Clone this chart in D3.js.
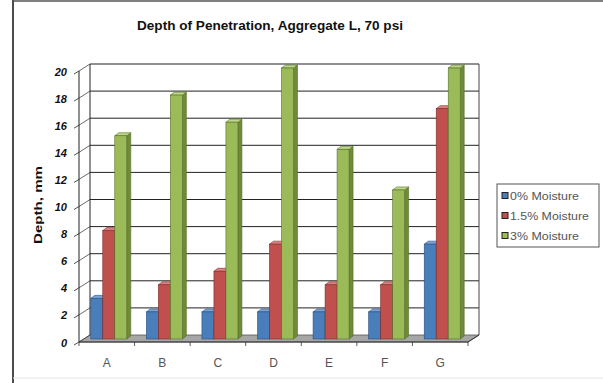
<!DOCTYPE html>
<html>
<head>
<meta charset="utf-8">
<script src="https://cdn.jsdelivr.net/npm/d3@7"></script>
<style>
  html, body { margin: 0; padding: 0; background: #fff; }
  svg { display: block; font-family: "Liberation Sans", Arial, sans-serif; }
</style>
</head>
<body>
<svg id="chart" width="603" height="383"></svg>
<script>
// Penetration depth (mm) per aggregate sample, at three moisture levels
const categories = ["A", "B", "C", "D", "E", "F", "G"];
const seriesNames = ["0% Moisture", "1.5% Moisture", "3% Moisture"];
const moisture0 = [3, 2, 2, 2, 2, 2, 7];
const moisture15 = [8, 4, 5, 7, 4, 4, 17];
const moisture3 = [15, 18, 16, 20, 14, 11, 20];
const yTicks = [0, 2, 4, 6, 8, 10, 12, 14, 16, 18, 20];

const seriesValues = [moisture0, moisture15, moisture3];
const fills = [
  { front: "#4a7ebb", side: "#335d92", top: "#7aa3d6", stroke: "#2b4f7c" },
  { front: "#c0504d", side: "#8e3432", top: "#dc827f", stroke: "#7a2c2a" },
  { front: "#9bbb59", side: "#6f8a38", top: "#bdd88a", stroke: "#56702a" }
];

const svg = d3.select("#chart");

// Frame around the chart area
svg.append("line").attr("x1", 13).attr("x2", 13).attr("y1", 0).attr("y2", 383)
  .attr("stroke", "#111").attr("stroke-width", 1.5);
svg.append("line").attr("x1", 13).attr("x2", 603).attr("y1", 1).attr("y2", 1)
  .attr("stroke", "#555").attr("stroke-width", 1.5);
svg.append("line").attr("x1", 13).attr("x2", 603).attr("y1", 378).attr("y2", 378)
  .attr("stroke", "#e4e4e4").attr("stroke-width", 1);

// Title
svg.append("text").attr("x", 270).attr("y", 30).attr("text-anchor", "middle")
  .attr("font-size", 13).attr("font-weight", "bold").attr("fill", "#111")
  .attr("textLength", 266).attr("lengthAdjust", "spacingAndGlyphs")
  .text("Depth of Penetration, Aggregate L, 70 psi");

// 3D geometry: front plane, back wall offset, bar plane offset
const depthX = 11, depthY = -7;
const barDX = 5, barDY = -3;
const sideX = 4, sideY = -3;

const x = d3.scaleBand().domain(categories).range([79, 468]).paddingInner(0);
const y = d3.scaleLinear().domain([0, 20]).range([342, 71]);
const groupW = 36;
const xs = d3.scaleBand().domain(d3.range(seriesNames.length)).range([0, groupW]).padding(0);

const plot = svg.append("g");

// Floor
const fx0 = x.range()[0], fx1 = x.range()[1], fy = y(0);
plot.append("polygon")
  .attr("points", [[fx0, fy], [fx1, fy], [fx1 + depthX, fy + depthY], [fx0 + depthX, fy + depthY]].map(p => p.join(",")).join(" "))
  .attr("fill", "#a6a6a6").attr("stroke", "#555").attr("stroke-width", 0.8);

// Back wall gridlines and left wall slants
yTicks.forEach(t => {
  const yy = y(t);
  if (t > 0) {
    plot.append("line").attr("x1", fx0 + depthX).attr("x2", fx1 + depthX)
      .attr("y1", yy + depthY).attr("y2", yy + depthY)
      .attr("stroke", "#222").attr("stroke-width", 1);
  }
  plot.append("line").attr("x1", fx0).attr("x2", fx0 + depthX)
    .attr("y1", yy).attr("y2", yy + depthY)
    .attr("stroke", "#444").attr("stroke-width", 0.8);
});
// Back wall verticals
plot.append("line").attr("x1", fx0 + depthX).attr("x2", fx0 + depthX)
  .attr("y1", y(20) + depthY).attr("y2", y(0) + depthY).attr("stroke", "#222");
plot.append("line").attr("x1", fx1 + depthX).attr("x2", fx1 + depthX)
  .attr("y1", y(20) + depthY).attr("y2", y(0) + depthY).attr("stroke", "#444");

// Bars
categories.forEach((c, ci) => {
  const gx = x(c) + (x.bandwidth() - groupW - sideX) / 2 + barDX - 1;
  seriesValues.forEach((vals, si) => {
    const v = vals[ci];
    const x0 = gx + xs(si), w = xs.bandwidth();
    const top = y(v) + barDY, bot = y(0) + barDY;
    const col = fills[si];
    const g = plot.append("g");
    g.append("polygon")
      .attr("points", [[x0 + w, top], [x0 + w + sideX, top + sideY], [x0 + w + sideX, bot + sideY], [x0 + w, bot]].map(p => p.join(",")).join(" "))
      .attr("fill", col.side).attr("stroke", col.stroke).attr("stroke-width", 0.6);
    g.append("polygon")
      .attr("points", [[x0, top], [x0 + sideX, top + sideY], [x0 + w + sideX, top + sideY], [x0 + w, top]].map(p => p.join(",")).join(" "))
      .attr("fill", col.top).attr("stroke", col.stroke).attr("stroke-width", 0.6);
    g.append("rect").attr("x", x0).attr("y", top).attr("width", w).attr("height", bot - top)
      .attr("fill", col.front).attr("stroke", col.stroke).attr("stroke-width", 0.6);
  });
});

// Front value axis
plot.append("line").attr("x1", fx0).attr("x2", fx0).attr("y1", y(0)).attr("y2", y(20))
  .attr("stroke", "#222").attr("stroke-width", 1);
yTicks.forEach(t => {
  const yy = y(t);
  plot.append("line").attr("x1", fx0 - 5).attr("y1", yy + 3).attr("x2", fx0).attr("y2", yy)
    .attr("stroke", "#222").attr("stroke-width", 0.8);
  plot.append("text").attr("x", 67).attr("y", yy + 4.5).attr("text-anchor", "end")
    .attr("font-size", 11).attr("font-weight", "bold").attr("font-style", "italic")
    .attr("fill", "#111").text(t);
});

// Category axis: front floor edge, ticks and labels
plot.append("line").attr("x1", fx0).attr("x2", fx1).attr("y1", fy).attr("y2", fy)
  .attr("stroke", "#333").attr("stroke-width", 1);
plot.append("line").attr("x1", fx1).attr("x2", fx1 + depthX).attr("y1", fy).attr("y2", fy + depthY)
  .attr("stroke", "#333").attr("stroke-width", 1);
categories.concat([null]).forEach((c, i) => {
  const tx = fx0 + i * x.bandwidth();
  plot.append("line").attr("x1", tx).attr("x2", tx).attr("y1", fy).attr("y2", fy + 4)
    .attr("stroke", "#333").attr("stroke-width", 0.8);
});
categories.forEach(c => {
  plot.append("text").attr("x", x(c) + x.bandwidth() / 2).attr("y", 367)
    .attr("text-anchor", "middle").attr("font-size", 12).attr("fill", "#555").text(c);
});

// Axis title
svg.append("text").attr("transform", "translate(42,205) rotate(-90)")
  .attr("text-anchor", "middle").attr("font-size", 11.5).attr("font-weight", "bold")
  .attr("textLength", 78).attr("lengthAdjust", "spacingAndGlyphs")
  .attr("fill", "#111").text("Depth, mm");

// Legend
const legendLengths = [69, 79, 69];
const lg = svg.append("g").attr("transform", "translate(497,184)");
lg.append("rect").attr("width", 102).attr("height", 63).attr("fill", "#fff")
  .attr("stroke", "#555").attr("stroke-width", 1);
seriesNames.forEach((name, i) => {
  const ly = 12 + i * 20;
  lg.append("rect").attr("x", 5).attr("y", ly - 3.5).attr("width", 6).attr("height", 6)
    .attr("fill", fills[i].front).attr("stroke", "#222").attr("stroke-width", 1);
  lg.append("text").attr("x", 13).attr("y", ly + 3.5).attr("font-size", 10.5)
    .attr("textLength", legendLengths[i]).attr("lengthAdjust", "spacingAndGlyphs")
    .attr("fill", "#555").text(name);
});
</script>
</body>
</html>
